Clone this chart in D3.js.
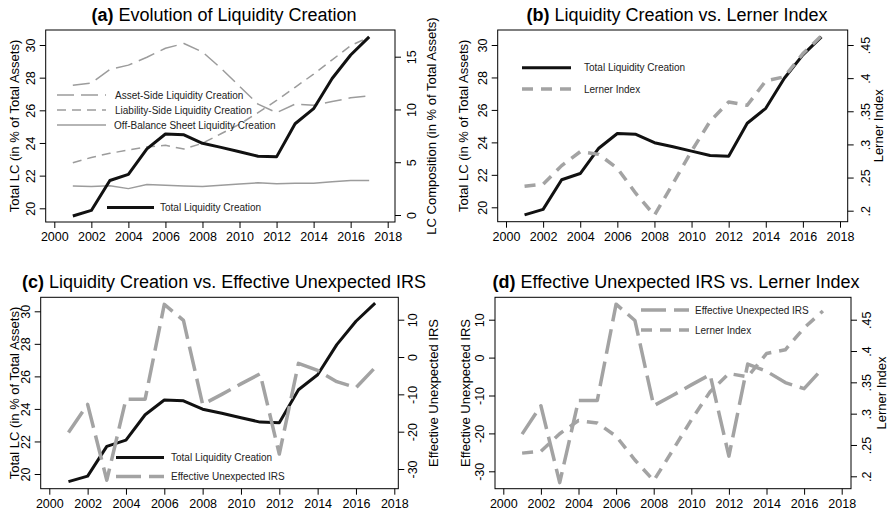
<!DOCTYPE html>
<html>
<head>
<meta charset="utf-8">
<script src="https://cdn.jsdelivr.net/npm/d3@7"></script>
<style>
  body { margin: 0; background: #fff; }
  svg { font-family: "Liberation Sans", Arial, sans-serif; }
  .frame { fill: none; stroke: #000; stroke-width: 1; }
  .axis .domain { display: none; }
  .axis line { stroke: #000; }
  .axis text { font-size: 12.5px; fill: #000; }
  .axis-title { font-size: 13px; fill: #000; }
  .title { font-size: 18px; fill: #000; }
  .legend { font-size: 10px; fill: #222; }
</style>
</head>
<body>
<svg id="chart" width="890" height="516"></svg>
<script>
// values
const years = [2001, 2002, 2003, 2004, 2005, 2006, 2007, 2008, 2009, 2010, 2011, 2012, 2013, 2014, 2015, 2016, 2017];
const yearTicks = [2000, 2002, 2004, 2006, 2008, 2010, 2012, 2014, 2016, 2018];

const totalLC = [19.53, 19.87, 21.7, 22.08, 23.64, 24.55, 24.5, 23.98, 23.73, 23.46, 23.19, 23.15, 25.18, 26.1, 27.95, 29.39, 30.5];
const assetSide = [12.3, 12.5, 13.8, 14.2, 14.95, 15.8, 16.25, 15.45, 13.9, 12.2, 10.5, 9.7, 10.5, 10.4, 10.75, 11.1, 11.3];
const liabilitySide = [4.95, 5.45, 5.85, 6.15, 6.45, 6.6, 6.25, 6.8, 7.7, 8.6, 9.7, 10.85, 12.1, 13.35, 14.7, 16.05, 16.85];
const offBalance = [2.75, 2.7, 2.78, 2.5, 2.88, 2.83, 2.75, 2.7, 2.82, 2.94, 3.05, 2.96, 3.0, 3.0, 3.15, 3.27, 3.27];
const lerner = [0.237, 0.24, 0.268, 0.289, 0.285, 0.264, 0.226, 0.193, 0.241, 0.29, 0.335, 0.364, 0.359, 0.396, 0.402, 0.437, 0.464];
const irs = [-20.2, -12.7, -33.0, -11.3, -11.3, 14.1, 9.8, -12.7, -10.0, -7.2, -4.5, -26.0, -1.7, -3.6, -6.6, -8.2, -2.8];

const lcTicks = [20, 22, 24, 26, 28, 30];
const compTicks = [0, 5, 10, 15];
const lernerTicks = [0.2, 0.25, 0.3, 0.35, 0.4, 0.45];
const lernerLabels = [".2", ".25", ".3", ".35", ".4", ".45"];
const irsTicks = [-30, -20, -10, 0, 10];

const svg = d3.select("#chart");

const black = "#111";
const grey = "#a3a3a3";

const lineOf = (x, y) => d3.line().x((d, i) => x(years[i])).y(d => y(d));

function drawPanel(p) {
  const g = svg.append("g");

  const x = d3.scaleLinear().domain([2000, 2018]).range(p.xr);
  const yL = d3.scaleLinear().domain(p.left.domain).range(p.left.range);
  const yR = d3.scaleLinear().domain(p.right.domain).range(p.right.range);

  // x axis
  g.append("g")
    .attr("class", "axis")
    .attr("transform", `translate(0, ${p.frame[3]})`)
    .call(d3.axisBottom(x).tickValues(yearTicks).tickSize(6).tickPadding(4).tickFormat(d3.format("d")));

  // left axis, rotated labels
  g.append("g")
    .attr("class", "axis")
    .attr("transform", `translate(${p.frame[0]}, 0)`)
    .call(d3.axisLeft(yL).tickValues(p.left.ticks).tickSize(6).tickFormat((d, i) => p.left.labels ? p.left.labels[i] : d))
    .selectAll("text")
    .attr("x", null)
    .attr("dy", null)
    .attr("text-anchor", "middle")
    .attr("dominant-baseline", "central")
    .attr("transform", "translate(-15, 0) rotate(-90)");

  // right axis
  g.append("g")
    .attr("class", "axis")
    .attr("transform", `translate(${p.frame[2]}, 0)`)
    .call(d3.axisRight(yR).tickValues(p.right.ticks).tickSize(6).tickFormat((d, i) => p.right.labels ? p.right.labels[i] : d))
    .selectAll("text")
    .attr("x", null)
    .attr("dy", null)
    .attr("text-anchor", "middle")
    .attr("dominant-baseline", "central")
    .attr("transform", `translate(${p.right.off}, 0) rotate(-90)`);

  g.append("rect")
    .attr("class", "frame")
    .attr("x", p.frame[0])
    .attr("y", p.frame[1])
    .attr("width", p.frame[2] - p.frame[0])
    .attr("height", p.frame[3] - p.frame[1]);

  // axis titles
  const midY = (p.frame[1] + p.frame[3]) / 2;
  g.append("text")
    .attr("class", "axis-title")
    .attr("transform", `translate(${p.left.titleX}, ${midY}) rotate(-90)`)
    .attr("text-anchor", "middle")
    .attr("dominant-baseline", "central")
    .text(p.left.title);
  g.append("text")
    .attr("class", "axis-title")
    .attr("transform", `translate(${p.right.titleX}, ${midY}) rotate(-90)`)
    .attr("text-anchor", "middle")
    .attr("dominant-baseline", "central")
    .text(p.right.title);

  // title
  const t = g.append("text")
    .attr("class", "title")
    .attr("x", p.titleX)
    .attr("y", p.titleY)
    .attr("text-anchor", "middle");
  t.append("tspan").attr("font-weight", "bold").text(p.tag);
  t.append("tspan").text(" " + p.title);

  // series
  p.series.forEach(s => {
    const y = s.axis === "left" ? yL : yR;
    g.append("path")
      .datum(s.values)
      .attr("fill", "none")
      .attr("stroke", s.color)
      .attr("stroke-width", s.width)
      .attr("stroke-dasharray", s.dash || null)
      .attr("stroke-linejoin", "round")
      .attr("d", lineOf(x, y));
  });

  // legend
  p.legend.forEach(l => {
    const s = p.series[l.series];
    g.append("line")
      .attr("x1", l.x1)
      .attr("x2", l.x2)
      .attr("y1", l.y)
      .attr("y2", l.y)
      .attr("stroke", s.color)
      .attr("stroke-width", s.width)
      .attr("stroke-dasharray", s.dash || null);
    g.append("text")
      .attr("class", "legend")
      .attr("x", l.tx)
      .attr("y", l.y)
      .attr("dominant-baseline", "central")
      .text(s.name);
  });
}

const lcAxis = (range, titleX) => ({
  domain: [20, 30], range: range, ticks: lcTicks,
  title: "Total LC (in % of Total Assets)", titleX: titleX
});

// (a)
drawPanel({
  tag: "(a)", title: "Evolution of Liquidity Creation", titleX: 224, titleY: 21,
  frame: [45.7, 30, 395, 222],
  xr: [54.3, 387.7],
  left: lcAxis([208.3, 45], 14),
  right: {
    domain: [0, 15], range: [215, 56.7], ticks: compTicks, off: 17,
    title: "LC Composition (in % of Total Assets)", titleX: 431
  },
  series: [
    { name: "Asset-Side Liquidity Creation", values: assetSide, axis: "right", color: "#9c9c9c", width: 1.5, dash: "17,7" },
    { name: "Liability-Side Liquidity Creation", values: liabilitySide, axis: "right", color: "#9c9c9c", width: 1.5, dash: "9,6" },
    { name: "Off-Balance Sheet Liquidity Creation", values: offBalance, axis: "right", color: "#9c9c9c", width: 1.5 },
    { name: "Total Liquidity Creation", values: totalLC, axis: "left", color: black, width: 3 }
  ],
  legend: [
    { series: 0, x1: 57, x2: 106, y: 95, tx: 115 },
    { series: 1, x1: 57, x2: 106, y: 110, tx: 115 },
    { series: 2, x1: 57, x2: 106, y: 125, tx: 114 },
    { series: 3, x1: 107, x2: 154, y: 207.5, tx: 160 }
  ]
});

// (b)
drawPanel({
  tag: "(b)", title: "Liquidity Creation vs. Lerner Index", titleX: 677, titleY: 21,
  frame: [497.7, 30, 847.7, 221.7],
  xr: [506, 840],
  left: lcAxis([207.3, 45], 463.5),
  right: {
    domain: [0.2, 0.45], range: [210.7, 45], ticks: lernerTicks, labels: lernerLabels, off: 18,
    title: "Lerner Index", titleX: 878
  },
  series: [
    { name: "Total Liquidity Creation", values: totalLC, axis: "left", color: black, width: 3 },
    { name: "Lerner Index", values: lerner, axis: "right", color: grey, width: 3.5, dash: "11,8" }
  ],
  legend: [
    { series: 0, x1: 522, x2: 571, y: 67.7, tx: 584 },
    { series: 1, x1: 522, x2: 571, y: 89, tx: 584 }
  ]
});

// (c)
drawPanel({
  tag: "(c)", title: "Liquidity Creation vs. Effective Unexpected IRS", titleX: 224, titleY: 288,
  frame: [40.7, 297.3, 398.3, 488.7],
  xr: [49.3, 394.3],
  left: lcAxis([474, 311.3], 14),
  right: {
    domain: [-30, 10], range: [469, 319.7], ticks: irsTicks, off: 15,
    title: "Effective Unexpected IRS", titleX: 433
  },
  series: [
    { name: "Total Liquidity Creation", values: totalLC, axis: "left", color: black, width: 3 },
    { name: "Effective Unexpected IRS", values: irs, axis: "right", color: grey, width: 3.5, dash: "25,8" }
  ],
  legend: [
    { series: 0, x1: 116, x2: 164, y: 457.5, tx: 171 },
    { series: 1, x1: 116, x2: 164, y: 476.5, tx: 171 }
  ]
});

// (d)
drawPanel({
  tag: "(d)", title: "Effective Unexpected IRS vs. Lerner Index", titleX: 676, titleY: 288,
  frame: [495, 297.3, 851, 488.7],
  xr: [503.3, 841.7],
  left: {
    domain: [-30, 10], range: [471.3, 319.7], ticks: irsTicks,
    title: "Effective Unexpected IRS", titleX: 465
  },
  right: {
    domain: [0.2, 0.45], range: [476.3, 319.7], ticks: lernerTicks, labels: lernerLabels, off: 16,
    title: "Lerner Index", titleX: 881
  },
  series: [
    { name: "Effective Unexpected IRS", values: irs, axis: "left", color: grey, width: 3.5, dash: "25,8" },
    { name: "Lerner Index", values: lerner, axis: "right", color: grey, width: 3.5, dash: "11,8" }
  ],
  legend: [
    { series: 0, x1: 641, x2: 689, y: 310, tx: 695 },
    { series: 1, x1: 641, x2: 689, y: 330, tx: 695 }
  ]
});
</script>
</body>
</html>
